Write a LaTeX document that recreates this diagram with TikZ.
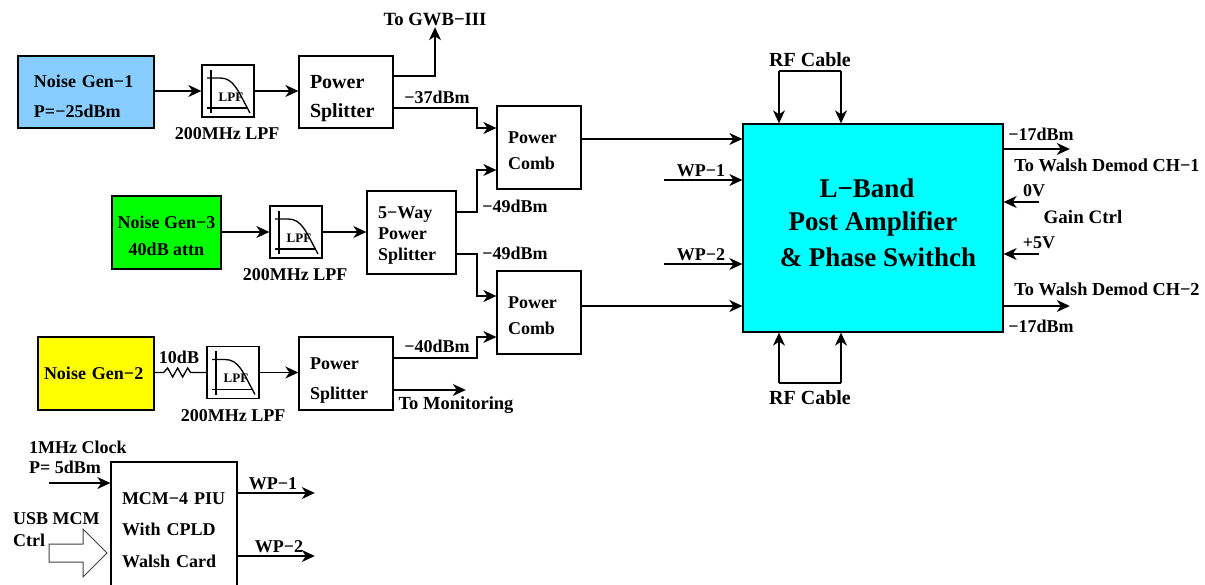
\documentclass[tikz,border=0pt]{standalone}
\usepackage{fontspec}
\setmainfont{Liberation Serif}
\usetikzlibrary{arrows.meta}
\newcommand{\fs}[2]{\fontsize{#1pt}{#2pt}\selectfont\bfseries}
\newcommand{\dn}[1]{\rule[-#1pt]{0pt}{#1pt}}
\newcommand{\up}[1]{\rule{0pt}{#1pt}}
\definecolor{skyb}{RGB}{135,205,255}
\definecolor{purecyan}{RGB}{0,255,255}
\definecolor{puregreen}{RGB}{0,255,0}
\definecolor{pureyellow}{RGB}{255,255,0}
\tikzset{
  box/.style={draw=black,line width=1.3pt,inner sep=0pt,font=\fs{18}{29}},
  lbox/.style={box,align=left},
  cbox/.style={box,align=center},
  lpfbox/.style={draw=black,line width=1.3pt,minimum width=52pt,minimum height=52pt,inner sep=0pt},
  lbl/.style={inner sep=0pt,font=\fs{18}{22}},
  wire/.style={line width=1.3pt,line join=miter},
  arr/.style={wire,-{Stealth[length=13pt,width=12pt,inset=4pt]}},
  port/.style={inner sep=0pt,minimum size=0pt}
}
\newcommand{\lpfsym}[1]{%
  \begin{scope}[shift={(#1.center)},line width=1.3pt]
    \node[inner sep=0pt,font=\fs{13}{15}] (#1text) at (3,6) {LPF};
    \draw (-17,-21) -- (-17,22);
    \draw (-21,17) -- (20,17);
    \draw (-21,-13) -- (-8,-13) .. controls (6,-13) and (10,0) .. (22,22);
  \end{scope}}
\begin{document}
\begin{tikzpicture}[x=1pt,y=-1pt]
\useasboundingbox (0,0) rectangle (1205,585);
\clip (0,0) rectangle (1205,585);
% boxes
\node[lbox,fill=skyb,minimum width=136pt,minimum height=72pt,inner xsep=16pt,text width=104pt,font=\fs{18}{30}] (ng1) at (86,92) {\up{22}Noise Gen−1\\P=−25dBm};
\node[lbox,minimum width=94pt,minimum height=72pt,inner xsep=11pt,text width=72pt,font=\fs{20}{29}] (ps1) at (346,92) {\up{27}Power\\Splitter};
\node[cbox,fill=puregreen,minimum width=109pt,minimum height=73pt,font=\fs{18}{27}] (ng3) at (166.5,232.5) {\up{20}Noise Gen−3\\40dB attn};
\node[lbox,minimum width=89pt,minimum height=83pt,inner xsep=11pt,text width=67pt,font=\fs{18}{21}] (way) at (411.5,232.5) {\up{17}5−Way\\Power\\Splitter};
\node[lbox,minimum width=84pt,minimum height=83pt,inner xsep=11pt,text width=62pt,font=\fs{18}{26}] (comb1) at (539,147.5) {\up{18}Power\\Comb};
\node[lbox,minimum width=84pt,minimum height=83pt,inner xsep=11pt,text width=62pt,font=\fs{18}{26}] (comb2) at (539,312.5) {\up{18}Power\\Comb};
\node[lbox,fill=pureyellow,minimum width=116pt,minimum height=73pt,inner xsep=6pt,text width=104pt] (ng2) at (96,373.5) {Noise Gen−2};
\node[lbox,minimum width=94pt,minimum height=73pt,inner xsep=11pt,text width=72pt,font=\fs{18}{30}] (ps2) at (346,373.5) {\up{26}Power\\Splitter};
\node[lbox,minimum width=126pt,minimum height=138pt,inner xsep=11pt,text width=104pt,font=\fs{18}{31.5}] (mcm) at (174,531) {MCM−4 PIU\\With CPLD\\Walsh Card\dn{2}};
\node[cbox,fill=purecyan,minimum width=260pt,minimum height=208pt,font=\fs{27}{33}] (amp) at (873,228) {L−Band\hspace*{12pt}\\Post Amplifier\\[3pt]\hspace*{10pt}\&\ Phase Swithch\dn{10}};
% LPF
\node[lpfbox] (lpf1) at (228,91) {};
\node[lpfbox] (lpf3) at (296,232) {};
\node[lpfbox] (lpf2) at (233,372.5) {};
\lpfsym{lpf1}\lpfsym{lpf3}\lpfsym{lpf2}
% block arrow
\draw[draw=black!75,line width=1pt,line join=miter] (49,544) -- (83,544) -- (83,529) -- (107,553) -- (83,577) -- (83,562) -- (49,562) -- cycle;
% free ends
\node[port] (gwb) at (435,27) {};
\node[port] (mon) at (466,390) {};
\node[port] (wp1in) at (664,180) {};
\node[port] (wp2in) at (664,264) {};
\node[port] (zero) at (1039,202) {};
\node[port] (five) at (1039,254) {};
\node[port] (out1) at (1070,149) {};
\node[port] (out2) at (1070,306) {};
\node[port] (clk) at (49,483) {};
\node[port] (wp1out) at (315,493) {};
\node[port] (wp2out) at (315,556) {};
\node[port] (rfta) at (779,71) {};
\node[port] (rftb) at (841,71) {};
\node[port] (rfba) at (779,383) {};
\node[port] (rfbb) at (841,383) {};
% connectors
\draw[arr] (ng1.east |- lpf1.west) -- (lpf1.west);
\draw[arr] (lpf1.east) -- (ps1.west |- lpf1.east);
\draw[arr] (ng3.east |- lpf3.west) -- (lpf3.west);
\draw[arr] (lpf3.east) -- (way.west |- lpf3.east);
\draw[arr] (lpf2.east) -- (ps2.west |- lpf2.east);
\draw[wire] (ng2.east |- lpf2.west) -- ++(9,0) -- ++(4,-4.5) -- ++(5,9) -- ++(5,-9) -- ++(5,9) -- ++(5,-9) -- ++(3,4.5) -- (lpf2.west);
\draw[arr] (ps1.east |- 0,76) -| (gwb);
\draw[arr] (ps1.east |- 0,108) -- (477,108) |- (comb1.west |- 0,128);
\draw[arr] (way.east |- 0,212) -- (477,212) |- (comb1.west |- 0,170);
\draw[arr] (way.east |- 0,254) -- (477,254) |- (comb2.west |- 0,296);
\draw[arr] (ps2.east |- 0,358) -- (477,358) |- (comb2.west |- 0,337);
\draw[arr] (ps2.east |- mon) -- (mon);
\draw[arr] (comb1.east |- 0,139) -- (amp.west |- 0,139);
\draw[arr] (comb2.east |- 0,306) -- (amp.west |- 0,306);
\draw[arr] (wp1in) -- (amp.west |- wp1in);
\draw[arr] (wp2in) -- (amp.west |- wp2in);
\draw[wire] (rfta) -- (rftb);
\draw[arr] (rfta) -- (rfta |- amp.north);
\draw[arr] (rftb) -- (rftb |- amp.north);
\draw[wire] (rfba) -- (rfbb);
\draw[arr] (rfba) -- (rfba |- amp.south);
\draw[arr] (rfbb) -- (rfbb |- amp.south);
\draw[arr] (amp.east |- out1) -- (out1);
\draw[arr] (amp.east |- out2) -- (out2);
\draw[arr] (zero) -- (amp.east |- zero);
\draw[arr] (five) -- (amp.east |- five);
\draw[arr] (clk) -- (mcm.west |- clk);
\draw[arr] (mcm.east |- wp1out) -- (wp1out);
\draw[arr] (mcm.east |- wp2out) -- (wp2out);
% labels
\node[lbl,font=\fs{18.7}{22}] (l1) at (435,19) {To GWB−III};
\node[lbl] (l2) at (227,134) {200MHz LPF};
\node[lbl] (l3) at (295,274.5) {200MHz LPF};
\node[lbl] (l4) at (233,416) {200MHz LPF};
\node[lbl] (l5) at (437,97) {−37dBm};
\node[lbl] (l6) at (515,206.5) {−49dBm};
\node[lbl] (l7) at (515,253) {−49dBm};
\node[lbl] (l8) at (437,346.5) {−40dBm};
\node[lbl,font=\fs{18.5}{22}] (l9) at (456,405) {To Monitoring};
\node[lbl] (l10) at (179,357.5) {10dB};
\node[lbl,anchor=west] (l11) at (29,447) {1MHz Clock};
\node[lbl,anchor=west] (l12) at (29,467) {P= 5dBm};
\node[lbl,anchor=west] (l13) at (13,519) {USB MCM};
\node[lbl,anchor=west] (l14) at (13,540) {Ctrl};
\node[lbl] (l15) at (273,484) {WP−1};
\node[lbl] (l16) at (279,547) {WP−2};
\node[lbl] (l17) at (701,171) {WP−1};
\node[lbl] (l18) at (701,255) {WP−2};
\node[lbl,font=\fs{20}{22}] (l19) at (810,60) {RF Cable};
\node[lbl,font=\fs{20}{22}] (l20) at (810,398) {RF Cable};
\node[lbl] (l21) at (1041,134) {−17dBm};
\node[lbl] (l22) at (1041,326) {−17dBm};
\node[lbl,font=\fs{18.3}{22}] (l23) at (1107,165) {To Walsh Demod CH−1};
\node[lbl,font=\fs{18.3}{22}] (l24) at (1107,289) {To Walsh Demod CH−2};
\node[lbl] (l25) at (1034,191) {0V};
\node[lbl,font=\fs{19}{22}] (l26) at (1083,217) {Gain Ctrl};
\node[lbl] (l27) at (1039,243) {+5V};
\end{tikzpicture}
\end{document}
